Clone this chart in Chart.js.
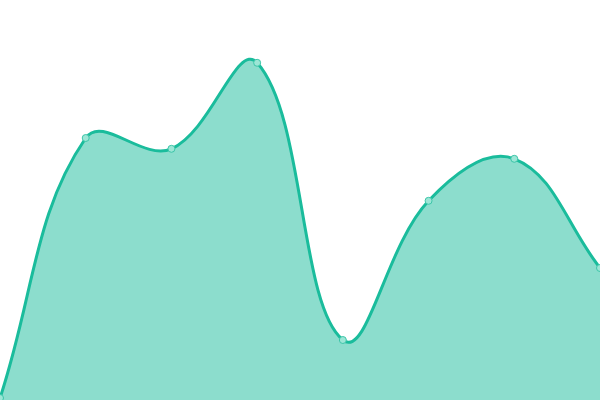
<!DOCTYPE html>
<html>
<head>
<meta charset="utf-8">
<script src="https://cdn.jsdelivr.net/npm/chart.js@4"></script>
<style>
  html, body { margin: 0; padding: 0; background: #fff; }
  #wrap { width: 600px; height: 400px; }
</style>
</head>
<body>
<div id="wrap"><canvas id="areaChart"></canvas></div>
<script>
// Chart data
var labels = ['1', '2', '3', '4', '5', '6', '7', '8'];
var values = [0.5, 65.5, 62.8, 84.3, 15, 49.8, 60.3, 33];

var ctx = document.getElementById('areaChart').getContext('2d');

new Chart(ctx, {
    type: 'line',
    data: {
        labels: labels,
        datasets: [{
            data: values,
            fill: true,
            tension: 0.4,
            borderColor: '#1abc9c',
            backgroundColor: 'rgba(26, 188, 156, 0.5)',
            borderWidth: 3,
            pointRadius: 3.5,
            pointBorderWidth: 1,
            pointBackgroundColor: '#9ce6d6',
            pointBorderColor: '#3cc5a8'
        }]
    },
    options: {
        responsive: true,
        maintainAspectRatio: false,
        animation: false,
        layout: { padding: 0, autoPadding: false },
        plugins: {
            legend: { display: false },
            tooltip: { enabled: false }
        },
        scales: {
            x: { display: false, offset: false },
            y: { display: false, min: 0, max: 100 }
        }
    }
});
</script>
</body>
</html>
